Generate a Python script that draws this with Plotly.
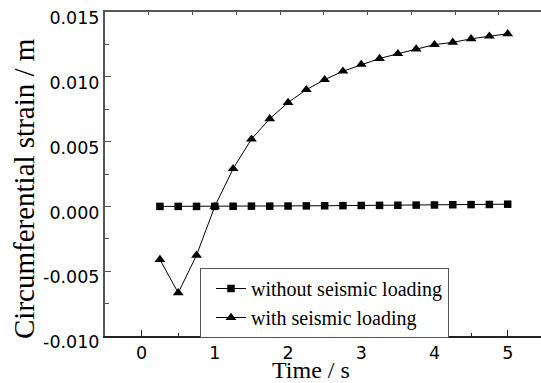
import plotly.graph_objects as go

# ---- data ----
time_s = [0.25, 0.5, 0.75, 1.0, 1.25, 1.5, 1.75, 2.0, 2.25, 2.5,
          2.75, 3.0, 3.25, 3.5, 3.75, 4.0, 4.25, 4.5, 4.75, 5.0]
without_seismic = [0.0, 0.0, 0.0, 0.0, 0.00001, 0.00002, 0.00002, 0.00003, 0.00004, 0.00005,
                   0.00006, 0.00007, 0.00008, 0.00009, 0.0001, 0.00011, 0.00013, 0.00014, 0.00015, 0.00017]
with_seismic = [-0.0041, -0.00667, -0.00377, 0.0, 0.00291, 0.00519, 0.00676, 0.00801, 0.00901, 0.00978,
                0.01043, 0.01095, 0.01141, 0.01178, 0.01214, 0.01248, 0.01266, 0.01293, 0.01313, 0.01332]
series_names = ["without seismic loading", "with seismic loading"]

y_tickvals = [-0.010, -0.005, 0.000, 0.005, 0.010, 0.015]
y_ticktext = ["-0.010", "-0.005", "0.000", "0.005", "0.010", "0.015"]
x_tickvals = [0, 1, 2, 3, 4, 5]
x_ticktext = ["0", "1", "2", "3", "4", "5"]
x_title = "Time / s"
y_title = "Circumferential strain / m"

SERIF = "Liberation Serif, Times New Roman, serif"
SANS = "DejaVu Sans, Arial, sans-serif"

fig = go.Figure()
fig.add_trace(go.Scatter(
    x=time_s, y=without_seismic, name=series_names[0], mode="lines+markers",
    line=dict(color="black", width=1),
    marker=dict(symbol="square", size=7.5, color="black"),
))
fig.add_trace(go.Scatter(
    x=time_s, y=with_seismic, name=series_names[1], mode="lines+markers",
    line=dict(color="black", width=1),
    marker=dict(symbol="triangle-up", size=9.5, color="black"),
))
# invisible trace for the top axis ticks
fig.add_trace(go.Scatter(x=[0], y=[0], xaxis="x2", showlegend=False,
                         mode="markers", marker=dict(opacity=0), hoverinfo="skip"))

L, T, W, H = 105, 12, 541, 383
PW = W - L
PH = 336 - T

fig.update_layout(
    width=W, height=H,
    margin=dict(l=L, r=0, t=T, b=H - 336, pad=0),
    paper_bgcolor="white", plot_bgcolor="white",
    showlegend=True,
    legend=dict(
        x=(200 - L) / PW, y=(336 - 268) / PH, xanchor="left", yanchor="top",
        font=dict(family=SERIF, size=20, color="black"),
        bgcolor="white", bordercolor="#555555", borderwidth=1,
        indentation=10,
        tracegroupgap=0,
    ),
    xaxis=dict(
        range=[-0.5, 5.455], tickvals=x_tickvals, ticktext=x_ticktext,
        ticks="inside", ticklen=6, tickwidth=1, tickcolor="#222222",
        showline=True, linecolor="#222222", linewidth=2,
        showgrid=False, zeroline=False,
        tickfont=dict(family=SANS, size=17.5, color="black"),
        minor=dict(dtick=0.5, tick0=0, ticks="inside", ticklen=3, tickcolor="#222222", showgrid=False),
    ),
    xaxis2=dict(
        overlaying="x", side="top", range=[0, PW / 43.75], dtick=1,
        ticks="inside", ticklen=3, tickcolor="#555555",
        showline=True, linecolor="#555555", linewidth=2,
        showticklabels=False, showgrid=False, zeroline=False,
    ),
    yaxis=dict(
        range=[-0.010, 0.015], tickvals=y_tickvals, ticktext=y_ticktext,
        ticks="inside", ticklen=6, tickwidth=1, tickcolor="#555555",
        showline=True, linecolor="#555555", linewidth=2,
        showgrid=False, zeroline=False,
        tickfont=dict(family=SANS, size=17.5, color="black"),
        ticklabelshift=6,
        minor=dict(dtick=0.0025, tick0=0, ticks="inside", ticklen=4, tickcolor="#555555", showgrid=False),
    ),
    annotations=[
        dict(text=y_title, xref="paper", yref="paper",
             x=(23.5 - L) / PW, y=(336 - 188.5) / PH, xanchor="center", yanchor="middle",
             textangle=-90, showarrow=False,
             font=dict(family=SERIF, size=29, color="black")),
        dict(text=x_title, xref="paper", yref="paper",
             x=(310.5 - L) / PW, y=(336 - 370) / PH, xanchor="center", yanchor="middle",
             showarrow=False,
             font=dict(family=SERIF, size=24, color="black")),
    ],
)

fig.write_html("out.html")
